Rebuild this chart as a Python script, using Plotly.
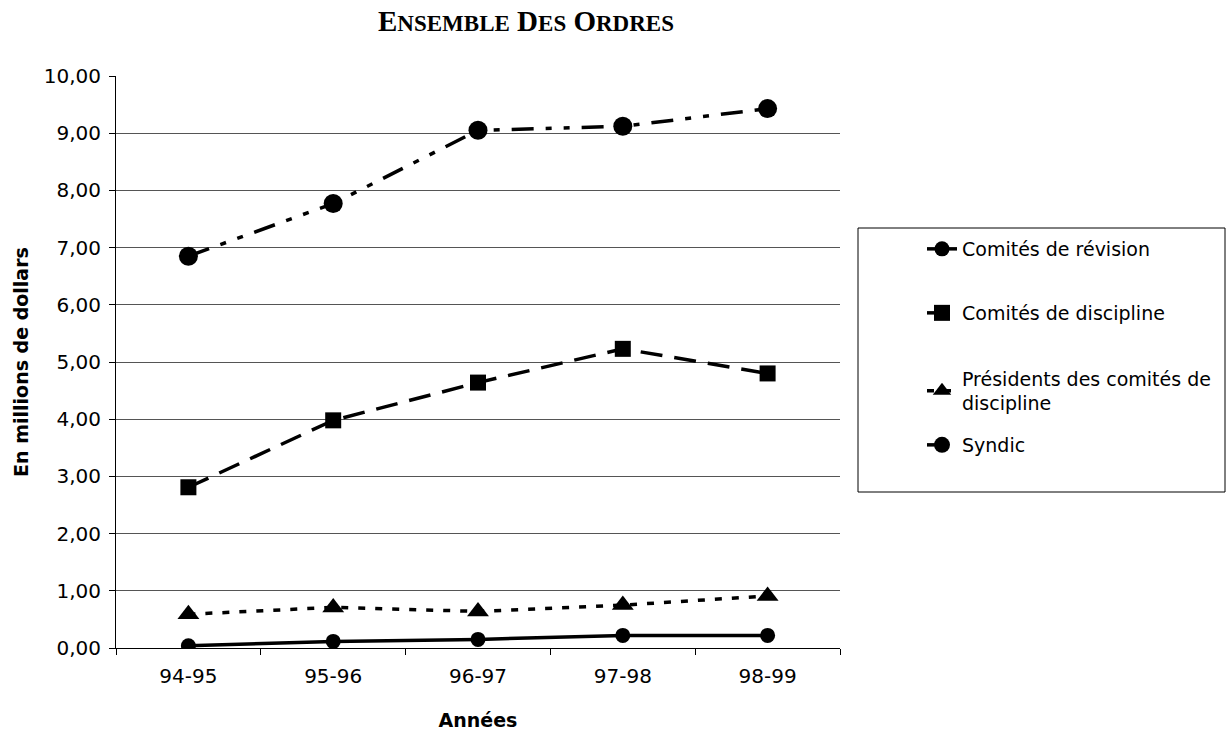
import plotly.graph_objects as go

years = ["94-95", "95-96", "96-97", "97-98", "98-99"]
revision = [0.04, 0.115, 0.15, 0.22, 0.22]
discipline = [2.81, 3.98, 4.64, 5.23, 4.80]
presidents = [0.59, 0.71, 0.64, 0.75, 0.91]
syndic = [6.85, 7.77, 9.05, 9.12, 9.43]

W, H = 1231, 732
L, R, T, B = 116, 840, 76, 648
SANS = "DejaVu Sans, Arial"

fig = go.Figure()
fig.add_trace(go.Scatter(x=years, y=revision, name="Comités de révision", legend="legend",
                         mode="lines+markers", line=dict(color="black", width=3.5),
                         marker=dict(symbol="circle", size=15, color="black")))
fig.add_trace(go.Scatter(x=years, y=discipline, name="Comités de discipline", legend="legend2",
                         mode="lines+markers", line=dict(color="black", width=3.5, dash="22px,12px"),
                         marker=dict(symbol="square", size=16, color="black")))
fig.add_trace(go.Scatter(x=years, y=presidents, name="Présidents des comités de<br>discipline",
                         legend="legend3",
                         mode="lines+markers", line=dict(color="black", width=3.5, dash="7px,10px"),
                         marker=dict(symbol="triangle-up", size=19, color="black")))
fig.add_trace(go.Scatter(x=years, y=syndic, name="Syndic", legend="legend4",
                         mode="lines+markers",
                         line=dict(color="black", width=3.5, dash="22px,12px,6px,12px,6px,12px"),
                         marker=dict(symbol="circle", size=19, color="black")))

title_txt = ("E<span style='font-size:23px'>NSEMBLE</span> D<span style='font-size:23px'>ES</span> "
             "O<span style='font-size:23px'>RDRES</span>")


def leg(yc):
    return dict(xref="container", yref="container", x=922 / W, y=1 - yc / H,
                xanchor="left", yanchor="middle", bgcolor="rgba(0,0,0,0)",
                borderwidth=0, font=dict(family=SANS, size=19, color="black"))


fig.update_layout(
    width=W, height=H,
    margin=dict(l=L, r=W - R, t=T, b=H - B, pad=0, autoexpand=False),
    paper_bgcolor="white", plot_bgcolor="white",
    separators=", ",
    font=dict(family=SANS, size=20, color="black"),
    title=dict(text=title_txt, x=526 / W, xref="container", xanchor="center",
               y=1 - 21 / H, yref="container", yanchor="middle",
               font=dict(family="Liberation Serif, Times New Roman", size=29, color="black",
                         weight="bold")),
    showlegend=True,
    legend=leg(249),
    legend2=leg(313),
    legend3=leg(391),
    legend4=leg(445),
    xaxis=dict(type="category", range=[-0.5, 4.5], showgrid=False, automargin=False,
               showline=True, linecolor="black", linewidth=1,
               ticks="outside", ticklen=6, tickcolor="black", tickson="boundaries",
               tickfont=dict(family=SANS, size=20), ticklabelstandoff=10,
               title=dict(text="<b>Années</b>", standoff=26, font=dict(family=SANS, size=19))),
    yaxis=dict(range=[0, 10], dtick=1, tickformat=".2f", automargin=False,
               showgrid=True, gridcolor="#555555", gridwidth=1,
               showline=True, linecolor="black", linewidth=1,
               ticks="outside", ticklen=6, tickcolor="black",
               tickfont=dict(family=SANS, size=20), zeroline=False, ticklabelstandoff=4,
               title=dict(text="<b>En millions de dollars</b>", standoff=10,
                          font=dict(family=SANS, size=19))),
    shapes=[dict(type="rect", xref="paper", yref="paper",
                 x0=(858 - L) / (R - L), x1=(1225 - L) / (R - L),
                 y0=(B - 492) / (B - T), y1=(B - 228) / (B - T),
                 line=dict(color="black", width=1), fillcolor="rgba(0,0,0,0)")],
)

fig.write_html("out.html")
